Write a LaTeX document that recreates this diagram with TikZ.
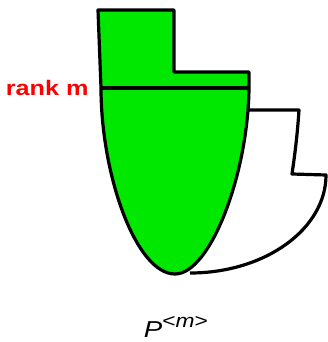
\documentclass[tikz,border=0pt]{standalone}
\usepackage{fontspec}
\setsansfont{Liberation Sans}
\definecolor{blockgreen}{HTML}{00E800}
\definecolor{ranklabel}{HTML}{FF0000}
\tikzset{
  outline/.style={draw=black, line width=1.6pt, line join=round},
  greenblock/.style={outline, fill=blockgreen},
  ranktext/.style={font=\sffamily\bfseries\fontsize{10.5}{12}\selectfont, text=ranklabel,
                   inner sep=0pt, xscale=1.2},
  nametext/.style={font=\sffamily\fontsize{11.5}{13}\selectfont, inner sep=0pt, xscale=1.2},
}
\begin{document}
\begin{tikzpicture}[x=0.5pt, y=-0.5pt]
    \useasboundingbox (0,0) rectangle (327,342);
    % green block
    \coordinate (tl) at (98,10);
    \coordinate (tr) at (174,10);
    \coordinate (step) at (174,72);
    \coordinate (stepr) at (249,72);
    \coordinate (rowr) at (249,88);
    \coordinate (rowl) at (101,88);
    \coordinate (tip) at (175,274);
    \draw[greenblock] (tl) -- (tr) -- (step) -- (stepr) -- (rowr)
        .. controls (248,175) and (210,274) .. (tip)
        .. controls (136,274) and (101,175) .. (rowl) -- cycle;
    \draw[outline] (rowl) -- (rowr);
    % white block
    \coordinate (wl) at (248,110);
    \coordinate (wr) at (299,110);
    \coordinate (wk) at (292,174);
    \coordinate (wo) at (326,175);
    \coordinate (wb) at (190,273);
    \draw[outline] (wl) -- (wr) .. controls (297,140) and (294,160) .. (wk) -- (wo)
        .. controls (326,229) and (265,273) .. (wb);
    % labels
    \node[ranktext, anchor=east] (rank) at (89,88) {rank m};
    \node[nametext] (name) at (176,327) {\textit{P}\raisebox{0.8ex}{\fontsize{9.5}{11}\selectfont <\textit{m}>}};
\end{tikzpicture}
\end{document}
